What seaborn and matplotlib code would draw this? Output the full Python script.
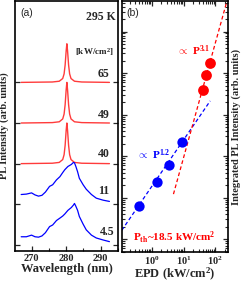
import numpy as np
import pandas as pd
import matplotlib
matplotlib.use("Agg")
import matplotlib.pyplot as plt
import matplotlib.ticker as mticker
import seaborn as sns

# panel (a): PL spectra, stacked with offsets
red_wl = [267, 276, 278, 279, 279.4, 279.7, 280.0, 280.2, 280.4, 280.7, 281.0, 281.4, 282.4, 284.5, 292.5]
red_shape = [0, 0.01, 0.03, 0.1, 0.22, 0.45, 0.82, 1.0, 0.82, 0.45, 0.22, 0.1, 0.03, 0.01, 0]
red_labels = ["65", "49", "40"]
red_base = [4.0, 3.0, 2.0]
red_height = [0.95, 1.0, 1.0]

blue_wl = [267, 268.5, 270, 271, 272, 273, 274, 275.2, 276.1, 277.2, 278.2, 279.0, 279.6, 280.5, 281.5,
           282.1, 282.4, 282.8, 283.3, 283.8, 284.9, 285.8, 287.3, 288.7, 290.7, 292.5]
blue_45 = [0.2, 0.2, 0.24, 0.2, 0.19, 0.22, 0.3, 0.45, 0.49, 0.6, 0.66, 0.71, 0.76, 0.85, 0.92,
           0.98, 1.02, 0.95, 0.85, 0.7, 0.51, 0.37, 0.24, 0.17, 0.12, 0.08]
blue_11 = [1.24, 1.25, 1.28, 1.23, 1.2, 1.22, 1.3, 1.44, 1.48, 1.6, 1.68, 1.78, 1.85, 1.93, 1.98,
           2.03, 2.02, 1.93, 1.8, 1.64, 1.48, 1.37, 1.24, 1.15, 1.1, 1.07]

label_y = {"65": 4.2, "49": 3.2, "40": 2.23, "11": 1.32, "4.5": 0.32}

# panel (b): integrated intensity vs excitation power density
epd_low = [0.4, 1.5, 3.6, 8.8]
int_low = [6.2, 23.7, 61.7, 224]
epd_high = [39.5, 50.5, 65.6]
int_high = [3900, 9050, 17800]

fit_low_x = [0.113, 69]
fit_low_y = [1.64, 2140]
fit_high_x = [4.8, 232]
fit_high_y = [12.2, 5.4e5]

sns.set_style("ticks")
plt.rcParams["font.family"] = ["Liberation Serif", "DejaVu Serif"]
plt.rcParams["font.weight"] = "bold"
plt.rcParams["mathtext.fontset"] = "custom"
plt.rcParams["mathtext.rm"] = "Liberation Serif:bold"
plt.rcParams["mathtext.bf"] = "Liberation Serif:bold"
plt.rcParams["mathtext.it"] = "Liberation Serif:bold"
plt.rcParams["mathtext.default"] = "bf"

RED = "#ff0000"
LRED = "#ff3b3b"
BLUE = "#0000ff"

fig = plt.figure(figsize=(2.45, 2.82), dpi=100)
ax1 = fig.add_axes([0.061, 0.110, 0.421, 0.886])
ax2 = fig.add_axes([0.497, 0.106, 0.435, 0.890])

for i, lab in enumerate(red_labels):
    d = pd.DataFrame({"wl": red_wl,
                      "I": [red_base[i] + red_height[i] * s for s in red_shape]})
    sns.lineplot(data=d, x="wl", y="I", ax=ax1, color=LRED, lw=1.0, sort=False)

for vals in [blue_11, blue_45]:
    d = pd.DataFrame({"wl": blue_wl, "I": vals})
    sns.lineplot(data=d, x="wl", y="I", ax=ax1, color=BLUE, lw=0.9, sort=False)

for lab, yv in label_y.items():
    xr = 293.9 if lab == "4.5" else 292.5
    ax1.text(xr, yv, lab, ha="right", va="center", fontsize=8.5, fontweight="bold")

ax1.text(294.2, 5.6, "295 K", ha="right", va="center", fontsize=8.5, fontweight="bold")
ax1.text(293.9, 4.76, r"[kW/cm$^{2}$]", ha="right", va="center", fontsize=6.5, fontweight="bold")
ax1.text(0.05, 0.952, "(a)", transform=ax1.transAxes, ha="left", va="center",
         fontsize=7.5, family="Liberation Sans", fontweight="normal")

ax1.set_xlim(265.2, 295)
ax1.set_ylim(-0.15, 6.0)
ax1.set_xticks([270, 280, 290])
ax1.xaxis.set_minor_locator(mticker.MultipleLocator(5))
ax1.set_yticks([0, 1, 2, 3, 4])
ax1.set_yticklabels([])
ax1.tick_params(axis="x", which="both", direction="in", top=False, labelsize=7.5, pad=2)
ax1.tick_params(axis="y", which="both", direction="in", left=True, right=True)
ax1.tick_params(which="major", length=3.5, width=0.9)
ax1.tick_params(which="minor", length=2, width=0.8)
ax1.set_xlabel("Wavelength (nm)", fontsize=9, fontweight="bold", labelpad=0)
ax1.set_ylabel("PL Intensity (arb. units)", fontsize=7.5, fontweight="bold", labelpad=1)

# panel b
sns.lineplot(x=fit_low_x, y=fit_low_y, ax=ax2, color=BLUE, lw=0.9, linestyle=(0, (3, 2)))
sns.lineplot(x=fit_high_x, y=fit_high_y, ax=ax2, color=RED, lw=0.9, linestyle=(0, (3, 2)))
sns.scatterplot(x=epd_low, y=int_low, ax=ax2, color=BLUE, s=55, edgecolor=BLUE, linewidth=0, zorder=3)
sns.scatterplot(x=epd_high, y=int_high, ax=ax2, color=RED, s=60, edgecolor=RED, linewidth=0, zorder=3)

ax2.set_xscale("log")
ax2.set_yscale("log")
ax2.set_xlim(0.113, 257)
ax2.set_ylim(0.49, 5.4e5)
ax2.text(6.15, 3.4e4, r"$\propto$ P$^{3.1}$", color=RED, fontsize=8, ha="left", va="center", fontweight="bold")
ax2.text(0.336, 111, r"$\propto$ P$^{1.2}$", color=BLUE, fontsize=8, ha="left", va="center", fontweight="bold")
ax2.text(0.257, 1.07, r"P$_{th}$~18.5 kW/cm$^{2}$", color=RED, fontsize=8, ha="left", va="center",
         fontweight="bold")
ax2.text(0.047, 0.952, "(b)", transform=ax2.transAxes, ha="left", va="center",
         fontsize=7.5, family="Liberation Sans", fontweight="normal")

ax2.xaxis.set_major_locator(mticker.LogLocator(base=10, numticks=10))
ax2.xaxis.set_minor_locator(mticker.LogLocator(base=10, subs=np.arange(2, 10), numticks=10))
ax2.yaxis.set_major_locator(mticker.LogLocator(base=10, numticks=10))
ax2.yaxis.set_minor_locator(mticker.LogLocator(base=10, subs=np.arange(2, 10), numticks=10))
ax2.yaxis.set_minor_formatter(mticker.NullFormatter())
ax2.yaxis.set_major_formatter(mticker.NullFormatter())
ax2.tick_params(axis="both", which="both", direction="in", top=True, bottom=True, left=True, right=True)
ax2.tick_params(which="major", length=3.5, width=0.9)
ax2.tick_params(which="minor", length=2, width=0.8)
ax2.tick_params(axis="x", labelsize=7.5, pad=1.5)
ax2.yaxis.set_label_position("right")
ax2.set_xlabel(r"EPD (kW/cm$^{2}$)", fontsize=9, fontweight="bold", labelpad=-0.5)
ax2.set_ylabel("Integrated PL Intensity (arb. units)", fontsize=7.5, fontweight="bold", labelpad=2)

for ax in (ax1, ax2):
    for sp in ax.spines.values():
        sp.set_linewidth(1.2)
        sp.set_color("black")

fig.savefig("out.png", dpi=100)
